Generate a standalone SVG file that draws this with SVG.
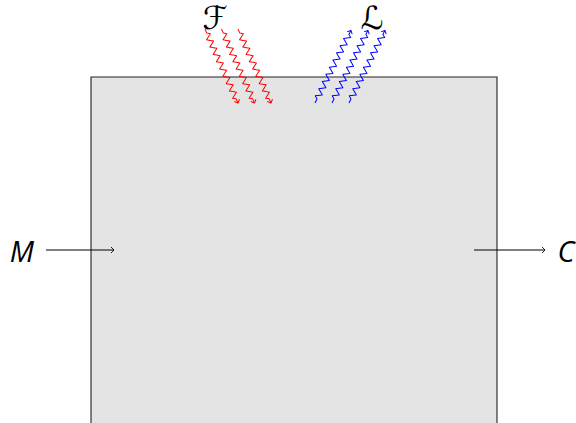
<svg xmlns="http://www.w3.org/2000/svg" xmlns:xlink="http://www.w3.org/1999/xlink" width="576" height="423" viewBox="0 0 576 423">
  <style>
    .box { fill: #e4e4e4; stroke: #222222; stroke-width: 1.1; }
    .lbl { font-family: "Open Sans", "DejaVu Sans", sans-serif; font-style: italic; font-size: 29px; fill: #000; }
    .scr { font-family: "DejaVu Serif", "DejaVu Sans", serif; font-size: 32px; fill: #000; }
    .flow { fill: none; stroke: #000; stroke-width: 1; }
    .red { fill: none; stroke: #ff0000; stroke-width: 1; stroke-linejoin: round; }
    .blue { fill: none; stroke: #0000ff; stroke-width: 1; stroke-linejoin: round; }
  </style>
  <defs>
    <marker id="tipK" markerUnits="userSpaceOnUse" orient="auto" markerWidth="8" markerHeight="8" refX="0" refY="0" viewBox="-4 -4 8 8" overflow="visible">
      <path d="M-3,-3 Q-0.6,-0.8 0,0 Q-0.6,0.8 -3,3" fill="none" stroke="#000" stroke-width="0.9"/>
    </marker>
    <marker id="tipR" markerUnits="userSpaceOnUse" orient="auto" markerWidth="8" markerHeight="8" refX="0" refY="0" viewBox="-4 -4 8 8" overflow="visible">
      <path d="M-2.8,-2.8 Q-0.5,-0.7 0,0 Q-0.5,0.7 -2.8,2.8" fill="none" stroke="#ff0000" stroke-width="1"/>
    </marker>
    <marker id="tipB" markerUnits="userSpaceOnUse" orient="auto" markerWidth="8" markerHeight="8" refX="0" refY="0" viewBox="-4 -4 8 8" overflow="visible">
      <path d="M-2.8,-2.8 Q-0.5,-0.7 0,0 Q-0.5,0.7 -2.8,2.8" fill="none" stroke="#0000ff" stroke-width="1"/>
    </marker>
    <!-- snake ray drawn along +x, length about 81 -->
    <path id="snake" d="M0,0 L4.5,0 l2,-3 l4,6 l2,-3 l2,-3 l4,6 l2,-3 l2,-3 l4,6 l2,-3 l2,-3 l4,6 l2,-3 l2,-3 l4,6 l2,-3 l2,-3 l4,6 l2,-3 l2,-3 l4,6 l2,-3 l2,-3 l4,6 l2,-3 l2,-3 l4,6 l2,-3 L81,0"/>
  </defs>

  <g id="system">
    <path class="box" d="M91,424 L91,77 L497,77 L497,424"/>
  </g>

  <g id="label-F">
    <text class="scr" x="215" y="29" text-anchor="middle">ℱ</text>
  </g>
  <g id="label-L">
    <text class="scr" x="372" y="29" text-anchor="middle">ℒ</text>
  </g>
  <g id="label-M">
    <text class="lbl" x="22" y="262" text-anchor="middle">M</text>
  </g>
  <g id="label-C">
    <text class="lbl" x="566" y="262" text-anchor="middle">C</text>
  </g>

  <g id="connectors">
    <line class="flow" x1="46" y1="250" x2="114" y2="250" marker-end="url(#tipK)"/>
    <line class="flow" x1="474" y1="250" x2="545" y2="250" marker-end="url(#tipK)"/>

    <!-- incoming rays -->
    <use href="#snake" class="red" marker-end="url(#tipR)" transform="translate(205,29) rotate(65.96)"/>
    <use href="#snake" class="red" marker-end="url(#tipR)" transform="translate(221.5,29) rotate(65.96)"/>
    <use href="#snake" class="red" marker-end="url(#tipR)" transform="translate(238,29) rotate(65.96)"/>

    <!-- outgoing rays -->
    <use href="#snake" class="blue" marker-end="url(#tipB)" transform="translate(315,103) rotate(-63.7)"/>
    <use href="#snake" class="blue" marker-end="url(#tipB)" transform="translate(332,103) rotate(-63.7)"/>
    <use href="#snake" class="blue" marker-end="url(#tipB)" transform="translate(349,103) rotate(-63.7)"/>
  </g>
</svg>
